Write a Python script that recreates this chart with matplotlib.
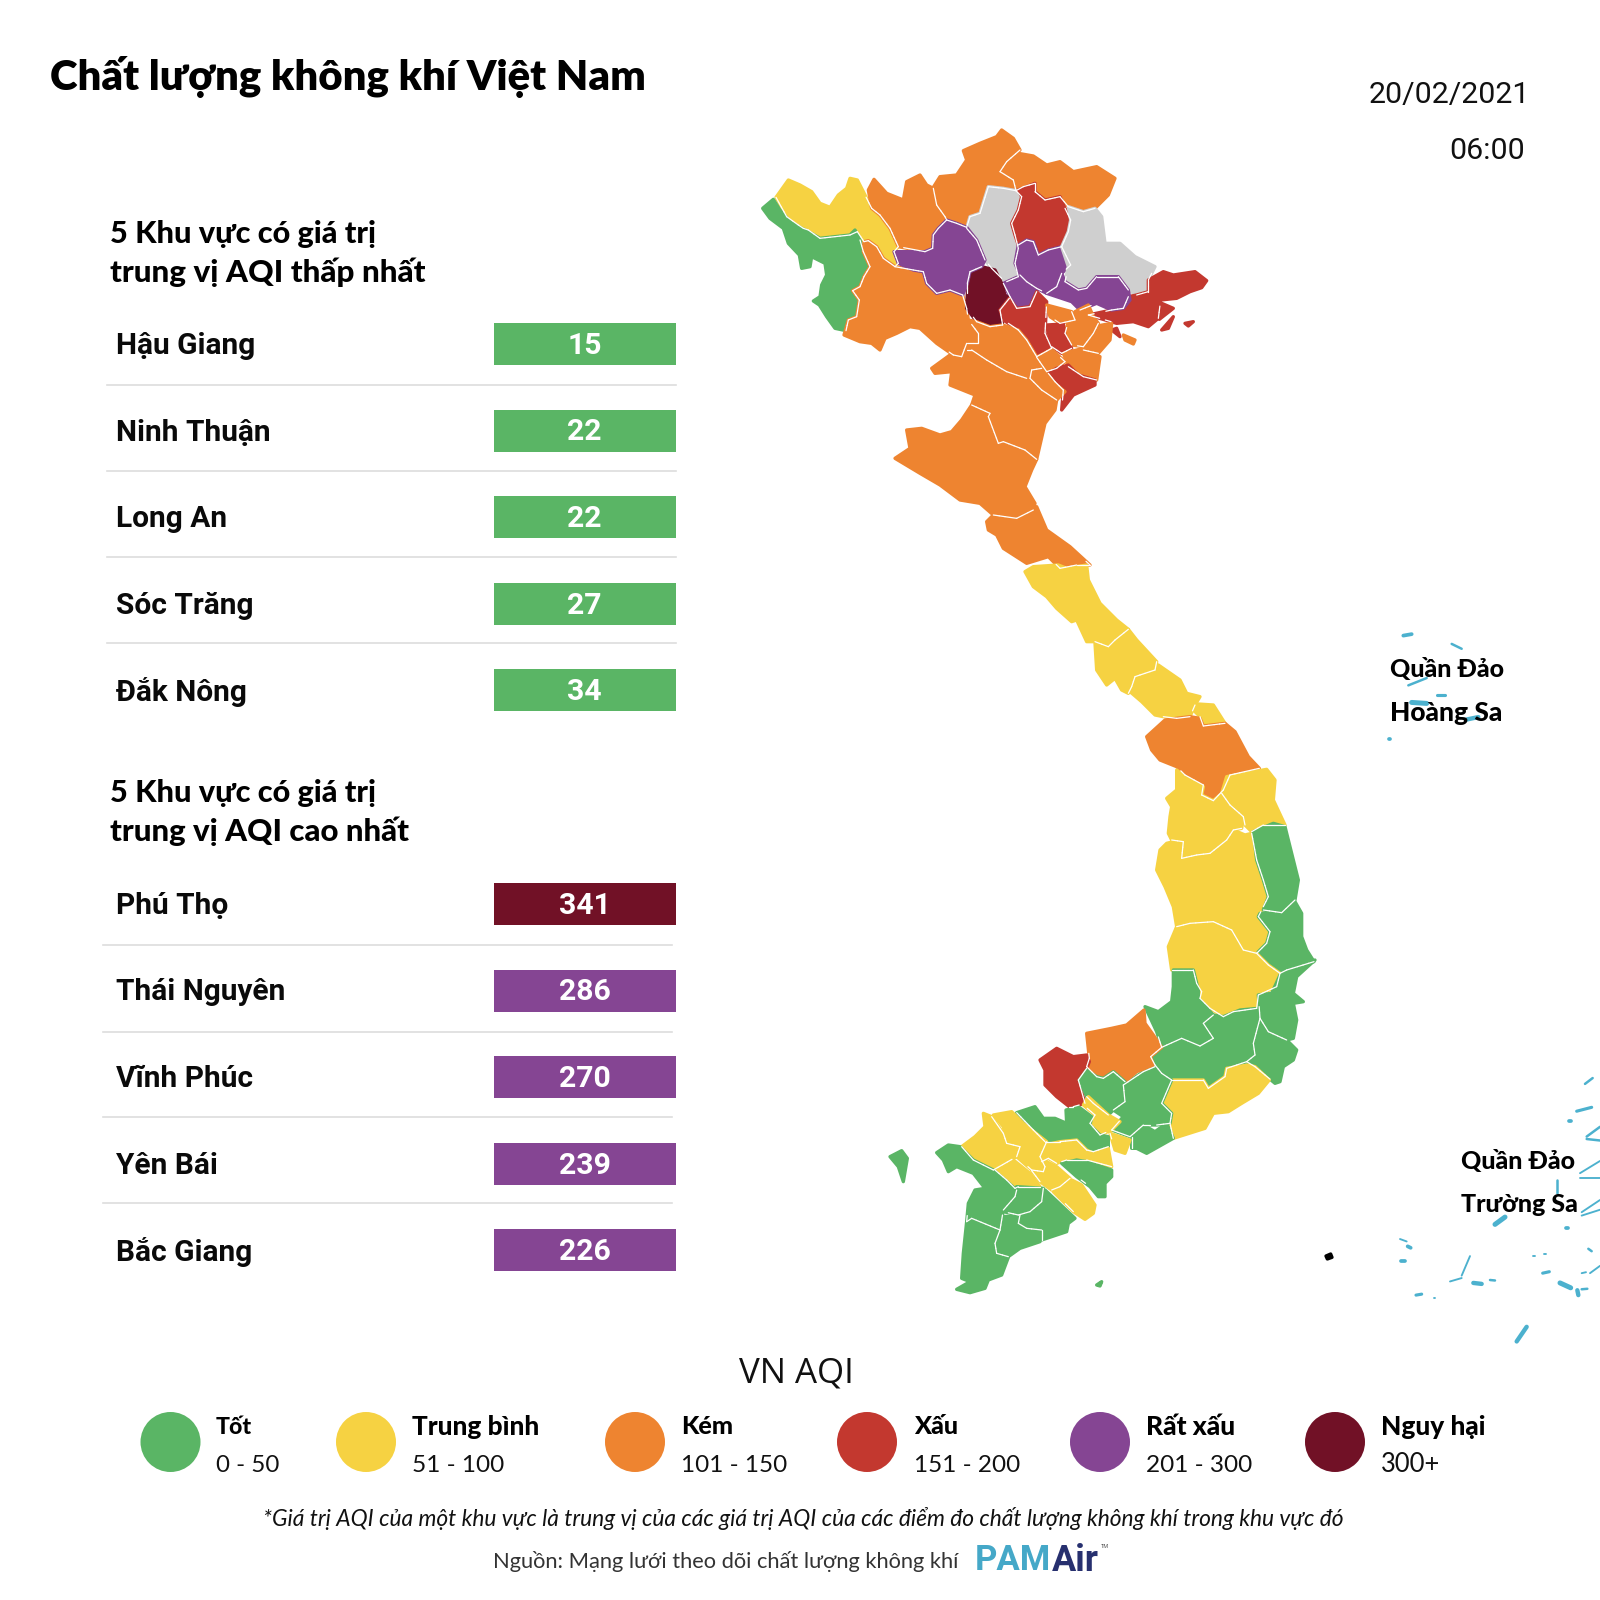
import matplotlib
matplotlib.use("Agg")
import matplotlib.pyplot as plt
import numpy as np
from matplotlib.collections import LineCollection
from matplotlib.patches import Polygon, Circle, Rectangle
from matplotlib.path import Path

# colours of the AQI classes
GOOD, MOD, POOR, BAD, VBAD, HAZ, NODATA = "#5AB565", "#F6D242", "#EE8430", "#C3382F", "#854593", "#711126", "#CFCFCF"
TEAL = "#4CB1CE"

low_names = ["Hậu Giang", "Ninh Thuận", "Long An", "Sóc Trăng", "Đắk Nông"]
low_values = [15, 22, 22, 27, 34]
low_colors = [GOOD, GOOD, GOOD, GOOD, GOOD]
high_names = ["Phú Thọ", "Thái Nguyên", "Vĩnh Phúc", "Yên Bái", "Bắc Giang"]
high_values = [341, 286, 270, 239, 226]
high_colors = [HAZ, VBAD, VBAD, VBAD, VBAD]

legend_names = ["Tốt", "Trung bình", "Kém", "Xấu", "Rất xấu", "Nguy hại"]
legend_ranges = ["0 - 50", "51 - 100", "101 - 150", "151 - 200", "201 - 300", "300+"]
legend_colors = [GOOD, MOD, POOR, BAD, VBAD, HAZ]

# province outlines, in 3x crop pixels
north_shapes = [
    (MOD, [(108,232),(145,180),(180,195),(215,215),(240,250),(270,262),(295,225),(320,205),(330,175),(352,180),(370,215),(395,265),(420,285),(450,325),(475,380),(462,395),(475,430),(465,440),(430,415),(410,380),(385,362),(372,365),(352,335),(330,345),(285,350),(240,355),(205,330),(190,325),(175,315),(140,290)]),
    (GOOD, [(68,265),(100,238),(120,270),(150,305),(185,325),(205,335),(240,355),(285,350),(330,345),(345,330),(360,360),(370,395),(390,440),(372,470),(360,500),(338,512),(358,540),(350,590),(325,600),(318,632),(285,625),(260,590),(238,555),(220,543),(240,530),(245,495),(260,465),(255,430),(215,410),(210,440),(185,445),(178,405),(145,370),(130,325),(90,295)]),
    (POOR, [(372,365),(385,362),(410,380),(430,415),(465,440),(520,450),(550,455),(560,490),(590,520),(630,510),(668,525),(680,565),(685,600),(715,640),(715,670),(680,670),(665,710),(640,705),(590,670),(540,625),(510,620),(470,640),(435,655),(420,690),(395,670),(360,665),(312,645),(325,600),(350,590),(358,540),(338,512),(360,500),(372,470),(390,440),(370,395)]),
    (POOR, [(385,210),(402,178),(440,220),(490,240),(500,185),(540,165),(560,195),(580,205),(590,255),(615,290),(620,300),(595,325),(580,345),(578,385),(555,395),(475,380),(450,325),(420,285),(395,265)]),
    (POOR, [(578,205),(600,170),(650,165),(680,120),(670,92),(720,70),(770,50),(785,30),(820,55),(840,90),(800,125),(780,155),(820,180),(828,212),(790,205),(745,200),(720,280),(690,290),(680,322),(650,310),(620,300),(590,255)]),
    (POOR, [(780,155),(800,125),(835,100),(880,108),(920,135),(960,125),(1000,155),(1070,140),(1125,175),(1105,225),(1065,265),(1030,275),(985,260),(960,230),(915,240),(885,215),(885,190),(850,200),(828,212),(820,180)]),
    (NODATA, [(745,200),(790,205),(828,212),(845,230),(835,270),(815,310),(825,345),(835,385),(825,430),(835,470),(800,485),(785,475),(755,445),(735,420),(710,360),(680,325),(690,290),(720,280)]),
    (BAD, [(835,210),(885,190),(885,215),(915,240),(960,230),(975,265),(992,300),(985,335),(965,380),(925,390),(895,405),(880,365),(860,360),(835,375),(825,345),(815,310),(835,270),(845,230)]),
    (VBAD, [(835,375),(860,360),(880,365),(895,405),(925,390),(965,380),(992,435),(965,460),(950,500),(920,520),(890,505),(860,485),(840,465),(825,430)]),
    (NODATA, [(985,260),(1030,275),(1065,265),(1085,290),(1095,370),(1140,370),(1185,410),(1245,440),(1225,480),(1225,515),(1190,525),(1165,510),(1135,470),(1070,470),(1040,505),(1015,510),(975,485),(985,440),(965,380),(985,335),(992,300)]),
    (BAD, [(1225,480),(1270,455),(1300,465),(1365,455),(1400,482),(1385,503),(1350,515),(1310,535),(1262,540),(1255,595),(1225,620),(1180,605),(1130,610),(1045,585),(1115,570),(1150,565),(1165,530),(1190,525),(1225,515)]),
    (BAD, [(1265,550),(1300,565),(1258,598)]),
    (BAD, [(1265,630),(1300,590),(1285,625)]),
    (POOR, [(1150,645),(1185,660),(1180,672),(1155,660)]),
    (BAD, [(1115,630),(1130,625),(1140,650)]),
    (BAD, [(1335,610),(1360,605),(1345,618)]),
    (VBAD, [(950,465),(965,460),(975,485),(1015,510),(1040,505),(1070,470),(1135,470),(1165,510),(1170,540),(1150,565),(1115,570),(1070,550),(1020,570),(995,545),(950,530),(920,520),(950,500)]),
    (VBAD, [(790,490),(835,470),(860,485),(890,515),(870,560),(830,565),(810,530)]),
    (HAZ, [(690,455),(725,440),(765,450),(785,490),(795,525),(808,535),(780,570),(788,615),(750,620),(710,605),(680,565),(682,520),(682,490)]),
    (VBAD, [(462,395),(555,395),(578,385),(580,345),(595,325),(620,300),(650,310),(680,322),(710,360),(735,420),(725,440),(690,455),(682,490),(668,525),(630,510),(590,520),(560,490),(550,455),(520,450),(475,430)]),
    (BAD, [(780,570),(808,535),(830,565),(870,560),(890,515),(920,545),(915,640),(935,685),(890,710),(860,660),(835,630),(790,600)]),
    (POOR, [(920,555),(995,575),(1005,600),(960,610),(930,590)]),
    (POOR, [(1005,575),(1045,555),(1060,590),(1075,610),(1060,640),(1030,680),(995,675),(975,640),(985,605)]),
    (POOR, [(1060,620),(1115,610),(1110,660),(1075,700),(1030,690)]),
    (BAD, [(920,615),(970,612),(975,650),(995,685),(965,700),(935,680)]),
    (POOR, [(890,712),(935,688),(975,725),(950,745),(920,755)]),
    (POOR, [(970,700),(1030,685),(1080,710),(1070,780),(1030,770),(985,740)]),
    (BAD, [(925,760),(950,745),(985,735),(1015,765),(1065,780),(1065,795),(1000,825),(965,870),(970,810),(945,785)]),
    (POOR, [(875,750),(905,745),(925,765),(945,790),(975,815),(950,840),(905,810),(870,775)]),
    (POOR, [(685,600),(710,605),(750,620),(788,615),(835,630),(860,660),(890,710),(905,745),(875,750),(860,775),(800,755),(740,720),(695,690),(680,690),(680,670),(715,670),(715,640)]),
    (POOR, [(575,745),(630,705),(665,710),(680,690),(740,720),(800,755),(860,775),(905,810),(950,840),(945,870),(915,910),(890,1018),(855,990),(790,965),(775,970),(745,890),(750,880),(695,855),(705,825),(630,795),(635,755),(585,760)]),
    (POOR, [(500,930),(545,925),(600,945),(635,935),(665,900),(695,855),(750,880),(745,915),(775,970),(790,965),(855,990),(890,1018),(875,1050),(855,1100),(885,1150),(880,1170),(830,1195),(760,1185),(720,1150),(660,1140),(600,1095),(540,1060),(465,1015),(510,985)]),
    (POOR, [(740,1205),(760,1185),(830,1195),(880,1170),(890,1160),(920,1230),(990,1280),(1050,1335),(1010,1335),(960,1345),(925,1310),(860,1330),(790,1285),(770,1245),(745,1230)]),
]

central_shapes = [
    (MOD, [(75,35),(100,20),(175,15),(200,25),(260,15),(265,60),(300,130),(350,180),(385,208),(345,240),(325,260),(285,245),(260,245),(230,180),(215,185),(170,145),(140,110),(100,80)]),
    (MOD, [(285,250),(325,260),(345,240),(385,208),(410,240),(470,305),(465,330),(405,350),(395,380),(385,400),(365,390),(345,355),(320,375),(290,330)]),
    (MOD, [(390,395),(405,350),(465,330),(475,315),(540,360),(560,400),(600,410),(585,435),(570,470),(530,475),(490,470),(465,465),(425,425)]),
    (MOD, [(580,450),(595,432),(640,435),(675,490),(610,498),(600,470)]),
    (POOR, [(440,530),(495,480),(530,475),(570,470),(600,475),(610,498),(675,490),(705,515),(745,590),(778,625),(690,645),(670,690),(640,722),(605,705),(610,675),(555,645),(530,620),(480,600),(455,570)]),
    (MOD, [(680,650),(800,628),(825,660),(820,720),(855,795),(790,795),(755,815),(735,795),(730,770),(690,735),(665,700)]),
    (MOD, [(530,630),(555,650),(610,680),(605,705),(640,722),(660,705),(690,735),(730,770),(725,805),(700,810),(680,840),(630,880),(590,885),(545,895),(550,845),(515,840),(505,820),(510,770),(515,740),(500,715),(530,690)]),
    (MOD, [(500,850),(540,840),(550,850),(540,895),(590,885),(630,880),(680,840),(700,810),(735,825),(755,820),(770,900),(790,960),(805,1010),(775,1070),(810,1115),(800,1150),(770,1180),(730,1170),(695,1110),(640,1085),(570,1090),(530,1100),(520,1040),(495,980),(470,930),(480,870)]),
    (GOOD, [(760,815),(820,790),(855,800),(880,900),(895,960),(885,1020),(845,1058),(790,1050),(805,1010),(790,960),(770,900)]),
    (GOOD, [(780,1060),(840,1060),(885,1025),(905,1060),(905,1130),(920,1170),(942,1205),(860,1230),(840,1240),(805,1215),(770,1180),(800,1150),(810,1115),(775,1070)]),
    (MOD, [(505,1160),(530,1100),(570,1090),(640,1085),(695,1110),(730,1170),(770,1180),(805,1215),(840,1240),(830,1280),(775,1305),(770,1345),(700,1355),(670,1370),(630,1345),(600,1315),(605,1295),(590,1270),(580,1230),(515,1230)]),
]

south_shapes = [
    (GOOD, [(940,30),(1000,30),(1015,90),(1015,115),(1060,165),(1030,190),(1060,235),(1020,258),(965,235),(905,262),(890,215),(855,140),(895,155),(935,125),(940,80)]),
    (GOOD, [(1260,45),(1365,0),(1310,50),(1300,100),(1330,125),(1300,130),(1310,180),(1300,235),(1280,240),(1225,215),(1200,175),(1195,105),(1235,100)]),
    (GOOD, [(1030,190),(1060,165),(1090,170),(1140,150),(1195,145),(1200,175),(1180,250),(1185,285),(1160,305),(1100,325),(1095,350),(1045,385),(1030,360),(935,360),(905,340),(885,315),(872,290),(905,262),(965,235),(1020,258),(1060,235)]),
    (GOOD, [(1200,175),(1225,215),(1280,240),(1310,270),(1300,300),(1270,320),(1260,365),(1245,370),(1215,345),(1185,320),(1160,305),(1180,270),(1175,250)]),
    (MOD, [(1100,325),(1165,315),(1185,320),(1228,360),(1195,400),(1145,430),(1105,455),(1060,460),(1035,505),(940,535),(930,490),(935,460),(905,430),(935,360),(1030,360),(1045,385),(1095,350)]),
    (GOOD, [(790,375),(850,335),(885,320),(935,360),(905,430),(935,460),(930,490),(890,495),(850,495),(810,530),(755,510),(790,470),(760,450),(795,425)]),
    (GOOD, [(815,530),(850,495),(885,515),(920,490),(940,535),(860,580),(830,565),(815,565)]),
    (POOR, [(680,220),(755,205),(800,195),(852,150),(855,190),(880,225),(905,262),(872,290),(880,315),(830,335),(795,365),(760,335),(730,355),(710,350),(680,320),(688,295)]),
    (BAD, [(540,300),(590,265),(640,290),(680,285),(688,305),(680,325),(655,360),(675,430),(640,440),(628,440),(590,410),(555,375),(555,330)]),
    (GOOD, [(658,360),(680,330),(710,350),(730,355),(760,335),(795,365),(790,395),(795,425),(760,450),(745,465),(700,430),(680,410)]),
    (MOD, [(670,435),(685,410),(745,465),(780,485),(755,510),(720,525),(690,490),(705,465)]),
    (MOD, [(750,520),(810,540),(795,580),(765,570)]),
    (GOOD, [(470,458),(525,440),(550,475),(585,475),(620,490),(618,450),(655,440),(695,470),(690,495),(720,525),(745,530),(745,560),(700,575),(680,570),(650,540),(600,545),(555,545),(520,510)]),
    (MOD, [(370,460),(395,470),(430,520),(440,550),(480,560),(470,590),(400,630),(340,600),(305,560),(345,530),(375,500)]),
    (MOD, [(400,465),(455,455),(490,490),(560,545),(540,590),(555,620),(550,635),(515,630),(470,590),(485,560),(440,545),(430,500)]),
    (MOD, [(545,580),(555,555),(600,545),(650,540),(680,570),(700,580),(745,565),(755,620),(680,600),(620,600),(590,610),(565,595),(545,605)]),
    (GOOD, [(605,610),(650,600),(680,605),(755,630),(755,650),(735,670),(735,710),(715,710),(690,680),(650,650)]),
    (MOD, [(515,632),(560,605),(590,620),(630,655),(600,680),(575,690),(540,665)]),
    (MOD, [(580,695),(635,660),(665,675),(705,735),(700,760),(675,778),(640,755)]),
    (MOD, [(405,630),(460,600),(510,640),(540,680),(475,680),(465,685),(440,660)]),
    (GOOD, [(230,578),(265,555),(300,560),(340,600),(400,630),(470,690),(465,710),(430,750),(420,810),(335,775),(320,785),(325,730),(345,690),(375,685),(340,640),(290,620),(265,635),(250,600)]),
    (GOOD, [(470,680),(550,685),(545,725),(510,755),(475,765),(430,755),(440,730)]),
    (GOOD, [(555,690),(645,775),(625,790),(620,815),(545,840),(545,810),(500,805),(475,790),(480,765),(520,750),(550,720)]),
    (GOOD, [(420,770),(475,768),(480,800),(540,815),(540,845),(480,865),(445,890),(410,880),(405,850),(420,810)]),
    (GOOD, [(320,785),(335,775),(415,812),(405,850),(410,882),(445,892),(425,945),(385,960),(375,985),(330,998),(290,988),(330,965),(305,955),(310,880)]),
    (GOOD, [(90,590),(125,572),(142,595),(130,665),(115,620)]),
    (GOOD, [(710,975),(725,965),(720,978)]),
    ("black", [(1398,888),(1412,882),(1416,892),(1402,897)]),
]

# islands, as strokes in the crop of the right hand side: x0, y0, x1, y1, width
island_strokes = [
    (190,73,215,70,3),(335,90,365,100,2),(205,175,260,160,2),(215,210,260,212,4),(290,195,315,195,2.5),
    (380,245,415,240,3.5),(146,285,151,285,3),
    (735,992,758,980,2),(710,1048,755,1040,2.5),(688,1068,694,1068,3),(740,1100,780,1080,2),(740,1105,780,1108,2),
    (720,1175,780,1150,1.5),(720,1185,780,1185,1.5),(725,1255,780,1230,1.5),(725,1262,780,1250,1.5),
    (650,1190,650,1215,2),(465,1280,495,1265,4),(678,1288,684,1288,3),(180,1310,200,1315,1.5),(203,1325,212,1328,3),
    (182,1355,195,1355,3),(330,1397,365,1390,1.5),(365,1385,390,1345,1.5),(400,1400,425,1402,3.5),(450,1394,465,1395,2),
    (228,1425,245,1423,2.5),(281,1430,285,1430,1.5),(578,1345,586,1345,1.5),(612,1340,618,1340,1.5),(608,1380,628,1377,2.5),
    (660,1400,692,1410,4),(712,1415,715,1425,3.5),(725,1413,742,1412,2),(725,1380,738,1378,1.5),(745,1330,755,1335,2),
    (750,1380,780,1365,1.5),(530,1520,560,1490,3.5),
]

fig = plt.figure(figsize=(16, 16), dpi=100)
ax = fig.add_axes([0, 0, 1, 1])
ax.set_xlim(0, 1600)
ax.set_ylim(1600, 0)
ax.axis("off")


def fit(x, y, s, width, **kw):
    # font size is set so the string has the width it has in the picture
    t = ax.text(x, y, s, **kw)
    box = t.get_window_extent(fig.canvas.get_renderer())
    t.set_fontsize(t.get_fontsize() * width / box.width)
    return t


def to_px(shapes, x0, y0):
    return [(c, np.array([(x0 + px / 3, y0 + py / 3) for px, py in pts])) for c, pts in shapes]


shapes = to_px(north_shapes, 740, 120) + to_px(central_shapes, 1000, 560) + to_px(south_shapes, 860, 960)
paths = [Path(xy) for _, xy in shapes]

# fat outline so the traced neighbours close up
for color, xy in shapes:
    ax.add_patch(Polygon(xy, closed=True, fc=color, ec=color, lw=2.4, joinstyle="round", zorder=2))

# white border only where a province meets a later one, not along the coast
borders = []
for i, (_, xy) in enumerate(shapes):
    for a, b in zip(xy, np.roll(xy, -1, axis=0)):
        n = max(int(np.hypot(*(b - a)) / 5), 1)
        ts = np.linspace(0, 1, n + 1)
        pts = a + np.outer(ts, b - a)
        d = (b - a) / np.hypot(*(b - a))
        normal = np.array([-d[1], d[0]])
        for p, q in zip(pts[:-1], pts[1:]):
            mid = (p + q) / 2
            probes = [mid + normal * 4, mid - normal * 4, mid]
            if any(paths[j].contains_points(probes).any() for j in range(i + 1, len(paths))):
                borders.append([p, q])
ax.add_collection(LineCollection(borders, colors="white", linewidths=0.9, capstyle="round", zorder=3))

for x0, y0, x1, y1, w in island_strokes:
    ax.plot([1340 + x0 / 3, 1340 + x1 / 3], [600 + y0 / 2.05, 600 + y1 / 2.05], color=TEAL, lw=w * 0.9,
            solid_capstyle="round", zorder=1)

HEAD = "Lato"

fit(50, 89.5, "Chất lượng không khí Việt Nam", 597, family=HEAD, weight=800, va="baseline", color="black", zorder=5)
ax.text(1530, 95, "20/02/2021", family="Roboto", fontsize=21.8, ha="right", va="center", color="#111111")
ax.text(1525, 151, "06:00", family="Roboto", fontsize=21.8, ha="right", va="center", color="#111111")


def table(head1, head2, base, names, values, colors, rows, seps, sep_x):
    fit(110.5, base, head1, 266, family=HEAD, weight=900, va="baseline", color="black")
    fit(110.5, base + 39, head2, 315 if "thấp" in head2 else 299, family=HEAD, weight=900, va="baseline", color="black")
    for name, val, col, y in zip(names, values, colors, rows):
        ax.add_patch(Rectangle((493.5, y - 21), 182.5, 42, fc=col, ec="none"))
        ax.text(116, y + 2, name, family="Roboto", weight="bold", fontsize=21.5, va="center", color="#0a0a0a")
        ax.text(584.5, y + 2, str(val), family="Roboto", weight="bold", fontsize=21.7, va="center", ha="center", color="white")
    for y in seps:
        ax.plot(sep_x, [y, y], color="#DDDDDD", lw=1.2)


table("5 Khu vực có giá trị", "trung vị AQI thấp nhất", 243, low_names, low_values, low_colors,
      [344, 430.5, 517, 603.5, 690], [385, 471, 557, 643], [107, 676])
table("5 Khu vực có giá trị", "trung vị AQI cao nhất", 802, high_names, high_values, high_colors,
      [904, 990.5, 1077, 1163.5, 1250], [945, 1031.5, 1117, 1203], [103, 672])

fit(1390, 669, "Quần Đảo", 114, family=HEAD, weight=900, va="center", color="black", zorder=5)
fit(1390, 713, "Hoàng Sa", 112, family=HEAD, weight=900, va="center", color="black", zorder=5)
fit(1461, 1162, "Quần Đảo", 114, family=HEAD, weight=900, va="center", color="black", zorder=5)
fit(1461, 1205, "Trường Sa", 117, family=HEAD, weight=900, va="center", color="black", zorder=5)

fit(796, 1373, "VN AQI", 115, family="Open Sans", ha="center", va="center", color="#111111")
circle_x = [170.5, 366, 635, 867, 1100, 1335]
label_x = [216, 412, 681, 914, 1146, 1381]
name_w = [36, 127, 52, 44, 89, 104]
range_w = [63, 92, 106, 106, 106, 59]
for cx, lx, nw, rw, name, rng, col in zip(circle_x, label_x, name_w, range_w, legend_names, legend_ranges, legend_colors):
    ax.add_patch(Circle((cx, 1442), 30, fc=col, ec="none"))
    fit(lx, 1427, name, nw, family=HEAD, weight=900, va="center", color="black")
    fit(lx, 1465, rng, rw, family=HEAD, va="center", color="#111111")

fit(263, 1518, "*Giá trị AQI của một khu vực là trung vị của các giá trị AQI của các điểm đo chất lượng không khí trong khu vực đó",
    1080, family=HEAD, style="italic", va="center", color="#111111")
fit(493, 1561, "Nguồn: Mạng lưới theo dõi chất lượng không khí", 466, family=HEAD, va="center", color="#333333")
fit(975, 1561, "PAM", 76, family="Roboto", weight="bold", va="center", color="#45A8C8")
fit(1052, 1561, "Air", 47, family="Roboto", weight="bold", va="center", color="#27306F")
ax.text(1101, 1546, "TM", family="Roboto", fontsize=4, va="center", color="#555555")

fig.savefig("out.png", dpi=100, facecolor="white")
